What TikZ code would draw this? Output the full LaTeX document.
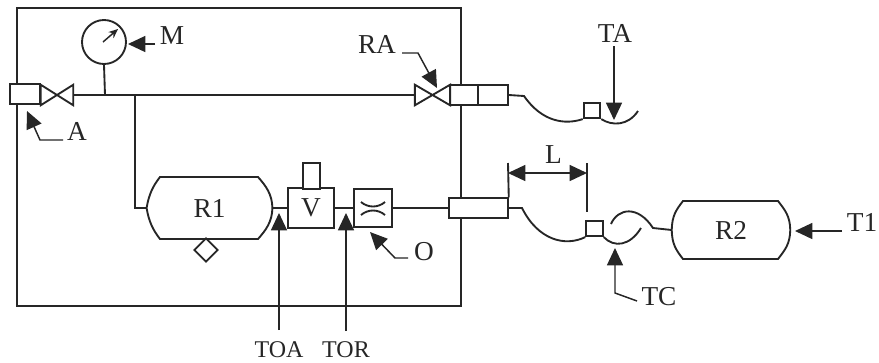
\documentclass[tikz,border=0pt]{standalone}
\usepackage{fontspec}
\setmainfont{Liberation Serif}
\usetikzlibrary{arrows.meta,shapes.geometric}
\tikzset{
  pipe/.style={black!85,line width=1.4pt},
  part/.style={pipe,draw,fill=white,rectangle,inner sep=0pt},
  lead/.style={black!85,line width=1.1pt,-{Triangle[length=13pt,width=12pt]}},
  dimen/.style={black!85,line width=1.1pt,{Triangle[length=13pt,width=12pt]}-{Triangle[length=13pt,width=12pt]}},
  tag/.style={font=\fontsize{20.5}{24}\selectfont,text=black!85,inner sep=0pt},
  smalltag/.style={tag,font=\fontsize{18}{22}\selectfont}
}
\begin{document}
\begin{tikzpicture}[x=0.75pt,y=-0.75pt]
\useasboundingbox (0,0) rectangle (879,362);
\node (frame) [part,minimum width=333pt,minimum height=223pt] at (239,157) {};
\node (gauge) [pipe,draw,circle,inner sep=0pt,minimum size=33pt] at (104,42) {};
\node (portA) [part,minimum width=22.5pt,minimum height=15pt] at (25,94) {};
\node (valveA) [inner sep=0pt,minimum width=24pt,minimum height=15pt] at (57,95) {};
\node (valveRA) [inner sep=0pt,minimum width=26pt,minimum height=15pt] at (432.5,95) {};
\node (portRA) [part,minimum width=21pt,minimum height=15pt] at (464,95) {};
\node (portTA) [part,minimum width=22.5pt,minimum height=15pt] at (493,95) {};
\node (boxTA) [part,minimum width=12.5pt,minimum height=11.5pt] at (592,110.5) {};
\node (R1) [tag,minimum width=94pt,minimum height=46.5pt] at (209.5,208) {R1};
\node (R2) [tag,minimum width=88.5pt,minimum height=43.5pt] at (731,230) {R2};
\node (drain) [pipe,draw,diamond,inner sep=0pt,minimum size=18pt] at (206,250) {};
\node (V) [part,tag,minimum width=34.5pt,minimum height=30pt] at (311,208) {V};
\node (coil) [part,minimum width=13pt,minimum height=19.5pt] at (311.5,176) {};
\node (O) [part,minimum width=28.5pt,minimum height=29pt] at (373,208) {};
\node (portL) [part,minimum width=44pt,minimum height=14.5pt] at (478.5,208) {};
\node (boxTC) [part,minimum width=12.5pt,minimum height=11.5pt] at (594.5,228.5) {};
\node (labM) [tag] at (172,36) {M};
\node (labA) [tag] at (77,131) {A};
\node (labRA) [tag] at (377,44) {RA};
\node (labTA) [tag] at (615,33) {TA};
\node (labL) [tag] at (553.5,155) {L};
\node (labO) [tag] at (424,252) {O};
\node (labTOA) [smalltag] at (279,350) {TOA};
\node (labTOR) [smalltag] at (346,350) {TOR};
\node (labTC) [tag] at (659,297) {TC};
\node (labT) [tag] at (862,222) {T1};
\coordinate (tee1) at (105,95);
\coordinate (tee2) at (135,95);
\coordinate (elbow) at (135,208);
\coordinate (needle) at (118,29);
\coordinate (hose1) at (524,96);
\coordinate (hose2) at (638,111);
\coordinate (hose3) at (522,208);
\coordinate (hose4) at (641,228);
\coordinate (hose5) at (611,224);
\coordinate (hose6) at (653,228);
\coordinate (legO) at (395,258);
\coordinate (legA) at (40,140);
\coordinate (legRA) at (418,53);
\coordinate (legTC) at (615,293);
\coordinate (fromM) at (155,44);
\coordinate (fromA) at (63,140);
\coordinate (fromRA) at (402,53);
\coordinate (fromTA) at (614,46);
\coordinate (fromO) at (408,258);
\coordinate (fromTOA) at (279,330);
\coordinate (fromTOR) at (346,331);
\coordinate (fromTC) at (637,301);
\coordinate (fromT) at (842,231);
\coordinate (tipM) at (128,44);
\coordinate (tipA) at (27,111);
\coordinate (tipRA) at (437,88);
\coordinate (tipTA) at (614,120);
\coordinate (tipO) at (370,232);
\coordinate (tipTOA) at (279,213);
\coordinate (tipTOR) at (346,213);
\coordinate (tipTC) at (615,248);
\coordinate (tipT) at (795,231);
\coordinate (stemL) at (508,163);
\coordinate (tickup) at (587,163);
\coordinate (tickdn) at (587,212);
\coordinate (dimA) at (508,173);
\coordinate (dimB) at (587,173);
\draw [pipe] (valveA.north west) -- (valveA.south east) -- (valveA.north east) -- (valveA.south west) -- cycle;
\draw [pipe] (valveRA.north west) -- (valveRA.south east) -- (valveRA.north east) -- (valveRA.south west) -- cycle;
\draw [pipe] (R1.west) .. controls (149,194) and (153,186) .. (160,177) -- (258,177) .. controls (266,186) and (272,194) .. (R1.east) .. controls (272,222) and (266,230) .. (258,239) -- (160,239) .. controls (153,230) and (149,222) .. (R1.west);
\draw [pipe] (R2.west) .. controls (672,216) and (676,210) .. (683,201) -- (778,201) .. controls (785,210) and (790,216) .. (R2.east) .. controls (790,244) and (785,250) .. (778,259) -- (683,259) .. controls (676,250) and (672,244) .. (R2.west);
\draw [pipe] (361,202) .. controls (368,208) and (378,208) .. (385,202);
\draw [pipe] (361,215) .. controls (368,209) and (378,209) .. (385,215);
\draw [pipe] (valveA.east) -- (valveRA.west);
\draw [pipe] (gauge.south) -- (tee1);
\draw [pipe] (tee2) -- (elbow) -- (R1.west);
\draw [pipe] (R1.east) -- (V.west);
\draw [pipe] (V.east) -- (O.west);
\draw [pipe] (O.east) -- (portL.west);
\draw [pipe] (portTA.east) -- (hose1) .. controls (542,122) and (565,125) .. (boxTA.south west);
\draw [pipe] (boxTA.south east) .. controls (612,126) and (628,126) .. (hose2);
\draw [pipe] (portL.east) -- (hose3) .. controls (538,240) and (565,247) .. (boxTC.south west);
\draw [pipe] (boxTC.south east) .. controls (614,248) and (630,246) .. (hose4);
\draw [pipe] (hose5) .. controls (618,208) and (638,205) .. (hose6) -- (R2.west);
\draw [pipe] (stemL) -- (portL.north east);
\draw [pipe] (tickup) -- (tickdn);
\draw [dimen] (dimA) -- (dimB);
\draw [black!85,line width=1.1pt,-{Stealth[length=7pt,width=6pt]}] (103,42) -- (needle);
\draw [lead] (fromM) -- (tipM);
\draw [lead] (fromA) -- (legA) -- (tipA);
\draw [lead] (fromRA) -- (legRA) -- (tipRA);
\draw [lead] (fromTA) -- (tipTA);
\draw [lead] (fromO) -- (legO) -- (tipO);
\draw [lead] (fromTOA) -- (tipTOA);
\draw [lead] (fromTOR) -- (tipTOR);
\draw [lead] (fromTC) -- (legTC) -- (tipTC);
\draw [lead] (fromT) -- (tipT);
\end{tikzpicture}
\end{document}
